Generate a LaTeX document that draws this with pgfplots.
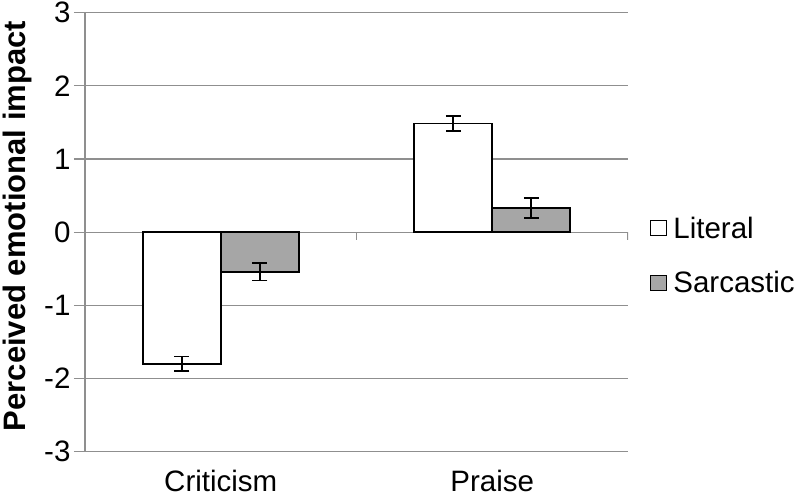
\documentclass[border=0pt]{standalone}
\usepackage{fontspec}
\setmainfont{Liberation Sans}
\usepackage{pgfplots}
\usepackage{pgfplotstable}
\pgfplotsset{compat=1.18}
\definecolor{gridgray}{HTML}{8F8F8F}
\definecolor{sarcgray}{HTML}{A6A6A6}

\pgfplotstableread{
x y err
0 -1.80 0.10
1 1.485 0.10
}\literal
\pgfplotstableread{
x y err
0 -0.54 0.12
1 0.33 0.14
}\sarcastic

\pgfplotsset{
  errs/.style={
    error bars/.cd, y dir=both, y explicit,
    error bar style={black, line width=1.6pt},
    error mark options={rotate=90, mark size=7.5pt, black, line width=1.6pt},
  },
}

\begin{document}
\begin{tikzpicture}
\begin{axis}[
  at={(0,0)}, anchor=south west,
  scale only axis,
  width=543pt, height=439pt,
  ybar=0pt,
  bar width=78pt,
  xmin=-0.5, xmax=1.5,
  ymin=-3, ymax=3,
  xtick={0,1},
  xticklabels={Criticism,Praise},
  ytick={-3,-2,-1,0,1,2,3},
  /pgf/number format/assume math mode=true,
  axis x line*=bottom,
  axis y line*=left,
  axis line style={gridgray, line width=1.2pt},
  ymajorgrids,
  grid style={gridgray, line width=1.2pt},
  xtick style={draw=none},
  ytick style={gridgray, line width=1.2pt},
  tick align=outside,
  major tick length=11pt,
  tick label style={font=\fontsize{29.5}{34}\selectfont},
  xticklabel style={yshift=-4pt},
  ylabel={Perceived emotional impact},
  ylabel style={at={(rel axis cs:-0.1252,0.514)}, anchor=center, font=\fontsize{31}{36}\selectfont\bfseries},
  legend style={at={(rel axis cs:1.0405,0.4469)}, anchor=west, draw=none, fill=none,
    inner sep=0pt, font=\fontsize{29.5}{34}\selectfont, row sep=28pt,
    /tikz/every odd column/.style={column sep=4pt}},
  legend cell align=left,
]
\draw[gridgray, line width=1.2pt] (axis cs:0.5,0) -- ([yshift=-8pt]axis cs:0.5,0);
\draw[gridgray, line width=1.2pt] (axis cs:1.5,0) -- ([yshift=-8pt]axis cs:1.5,0);
\addplot[draw=black, fill=white, line width=1.8pt,
  legend image code/.code={\draw[black, fill=white, line width=1.2pt] (0pt,-7.5pt) rectangle (16pt,7.5pt);},
  errs]
  table[x=x, y=y, y error=err] {\literal};
\addplot[draw=black, fill=sarcgray, line width=1.8pt,
  legend image code/.code={\draw[black, fill=sarcgray, line width=1.2pt] (0pt,-7.5pt) rectangle (16pt,7.5pt);},
  errs]
  table[x=x, y=y, y error=err] {\sarcastic};
\legend{Literal,Sarcastic}
\end{axis}
\pgfresetboundingbox
\path[use as bounding box] (-85pt,-45.3pt) rectangle (715pt,451.7pt);
\end{tikzpicture}
\end{document}
